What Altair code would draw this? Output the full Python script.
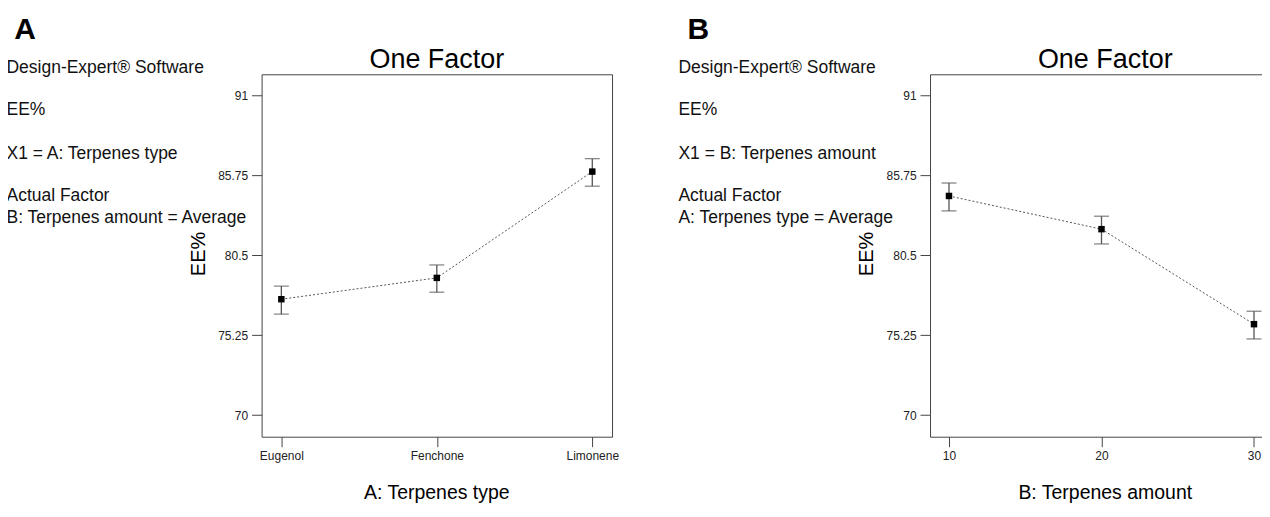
import altair as alt
import pandas as pd

FONT = "Liberation Sans"

# ---- data ----
types = ["Eugenol", "Fenchone", "Limonene"]
ee_a = [77.61, 79.01, 85.99]
lo_a = [76.63, 78.07, 85.03]
hi_a = [78.47, 79.86, 86.84]

amounts = [10, 20, 30]
ee_b = [84.39, 82.21, 75.97]
lo_b = [83.41, 81.24, 75.00]
hi_b = [85.24, 83.06, 76.82]

y_ticks = [70, 75.25, 80.5, 85.75, 91]
y_domain = [68.58, 92.38]

info_a = [["Design-Expert® Software"], ["EE%"], ["X1 = A: Terpenes type"],
          ["Actual Factor", "B: Terpenes amount = Average"]]
info_b = [["Design-Expert® Software"], ["EE%"], ["X1 = B: Terpenes amount"],
          ["Actual Factor", "A: Terpenes type = Average"]]

# layout constants (pixels relative to plot top-left)
W, H = 351, 363
INFO_Y = [-1.3, 40.4, 84.4, 126.7]

df_a = pd.DataFrame({"type": types, "ee": ee_a, "lo": lo_a, "hi": hi_a})
df_b = pd.DataFrame({"amount": amounts, "ee": ee_b, "lo": lo_b, "hi": hi_b})

y_scale = alt.Scale(domain=y_domain, nice=False, zero=False)
y_axis = alt.Axis(values=y_ticks, format=".5~g", title=None)


def text_layer(txt, **kw):
    return alt.Chart(pd.DataFrame({"t": [txt]})).mark_text(font=FONT, **kw)


def panel(df, xenc_fn, letter, letter_x, info, info_x, xtitle):
    line = alt.Chart(df).mark_line(color="#555", strokeDash=[2, 2], strokeWidth=1).encode(
        x=xenc_fn(), y=alt.Y("ee:Q", scale=y_scale, axis=y_axis))
    err = alt.Chart(df).mark_errorbar(
        rule={"color": "#555", "strokeWidth": 1.3},
        ticks={"color": "#555", "size": 15, "thickness": 1.3},
    ).encode(x=xenc_fn(), y=alt.Y("lo:Q", scale=y_scale, axis=y_axis), y2="hi:Q")
    pts = alt.Chart(df).mark_square(color="black", size=42, opacity=1).encode(
        x=xenc_fn(), y=alt.Y("ee:Q", scale=y_scale, axis=y_axis))
    layers = [line, err, pts]
    layers.append(text_layer(letter, fontSize=30, fontWeight="bold", align="left",
                             baseline="alphabetic", color="black").encode(
        x=alt.value(letter_x), y=alt.value(-35.6), text="t:N"))
    for grp, gy in zip(info, INFO_Y):
        layers.append(text_layer("\n".join(grp), fontSize=17.5, align="left",
                                 baseline="alphabetic", lineBreak="\n", lineHeight=22,
                                 color="#111").encode(
            x=alt.value(info_x), y=alt.value(gy), text="t:N"))
    layers.append(text_layer("One Factor", fontSize=27, align="center", baseline="alphabetic",
                             color="black").encode(
        x=alt.value(W / 2), y=alt.value(-6.3), text="t:N"))
    layers.append(text_layer("EE%", fontSize=20, align="center", baseline="alphabetic",
                             angle=270, color="black").encode(
        x=alt.value(-56.7), y=alt.value(180), text="t:N"))
    layers.append(text_layer(xtitle, fontSize=19.5, align="center", baseline="alphabetic",
                             color="black").encode(
        x=alt.value(W / 2), y=alt.value(H + 62), text="t:N"))
    return alt.layer(*layers).properties(width=W, height=H)


def xa():
    return alt.X("type:N", sort=types,
                 scale=alt.Scale(type="point", padding=0.127),
                 axis=alt.Axis(labelAngle=0, title=None))


def xb():
    return alt.X("amount:Q", scale=alt.Scale(domain=[8.756, 31.735], nice=False, zero=False),
                 axis=alt.Axis(values=amounts, format="d", title=None))


pa = panel(df_a, xa, "A", -247.7, info_a, -255.5, "A: Terpenes type")
pb = panel(df_b, xb, "B", -243, info_b, -252, "B: Terpenes amount")

chart = alt.hconcat(pa, pb, spacing=57.5).properties(
    padding={"left": -2, "top": 5, "right": -19, "bottom": 0},
    background="white",
).configure_view(
    stroke="#444", strokeWidth=1
).configure_axis(
    labelFont=FONT, labelFontSize=12, labelColor="#222", tickColor="#444",
    tickSize=10, tickWidth=1, domain=False, grid=False, labelPadding=4
)

chart.save("out.html", embed_options={"renderer": "svg", "actions": False})
